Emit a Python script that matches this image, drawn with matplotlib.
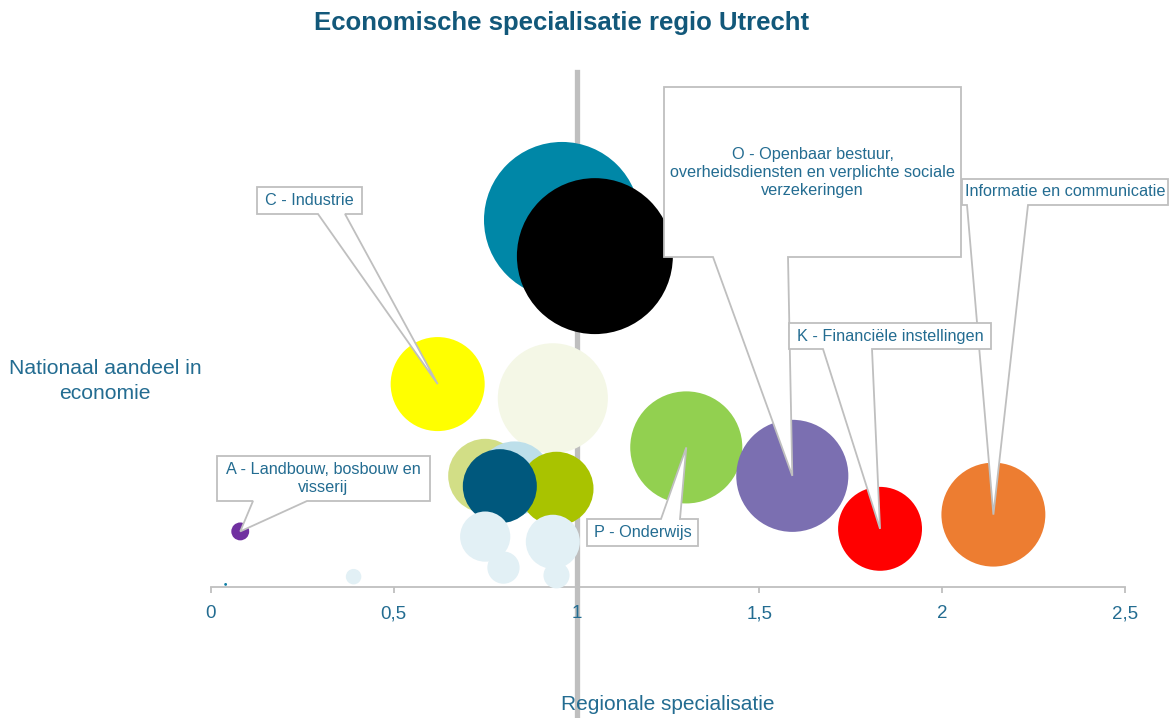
import matplotlib
matplotlib.use("Agg")
import matplotlib.pyplot as plt
from matplotlib.patches import Polygon
from matplotlib.ticker import FuncFormatter

plt.rcParams['font.family'] = ['Liberation Sans', 'DejaVu Sans']

W, H = 1169, 718
BLAUW = '#236C91'
GRIJS = '#BFBFBF'

# sectoren in tekenvolgorde
sectoren = ['B - Delfstoffen', 'R - Cultuur en recreatie', 'Q - Zorg', 'G - Handel',
            'C - Industrie', 'M - Zakelijke diensten', 'F - Bouw', 'H - Vervoer en opslag',
            'N - Overige zakelijke diensten', 'I - Horeca', 'S - Overige diensten',
            'D - Energie', 'E - Water en afval', 'L - Onroerend goed', 'P - Onderwijs',
            'O - Openbaar bestuur', 'K - Financiële instellingen',
            'J - Informatie en communicatie', 'A - Landbouw, bosbouw en visserij']
specialisatie = [0.04, 0.39, 0.96, 1.05, 0.62, 0.935, 0.75, 0.83, 0.945, 0.79,
                 0.75, 0.935, 0.80, 0.945, 1.30, 1.59, 1.83, 2.14, 0.08]
aandeel = [0.1, 0.4, 14.2, 12.8, 7.85, 7.3, 4.3, 4.2, 3.8, 3.9,
           1.95, 1.75, 0.75, 0.45, 5.4, 4.3, 2.25, 2.8, 2.15]
werkzaam = [0.02, 0.6, 60.8, 60.8, 22.1, 30.3, 13.7, 13.7, 13.7, 13.7,
            6.3, 7.3, 2.6, 1.7, 31.4, 31.4, 17.6, 27.0, 0.8]
kleuren = ['#0F7FA6', '#E2F0F5', '#0087A7', '#000000', '#FFFF00', '#F4F7E6', '#D2DE86',
           '#BDDFEA', '#A9C300', '#00587D', '#E2F0F5', '#E2F0F5', '#E2F0F5', '#E2F0F5',
           '#92D050', '#7B6FB1', '#FF0000', '#ED7D31', '#7030A0']

fig = plt.figure(figsize=(W / 100, H / 100), dpi=100)
ax = fig.add_axes([211 / W, 1 - 587 / H, (1125 - 211) / W, (587 - 70) / H])
ax.set_xlim(0, 2.5)
ax.set_ylim(0, 20)

ax.scatter(specialisatie, aandeel, s=[w * 207.4 for w in werkzaam], c=kleuren,
           linewidths=0, zorder=3, clip_on=False)
ax.axvline(1, ymin=-0.2476, ymax=0.996, color=GRIJS, lw=3.8, clip_on=False, zorder=0.3)

for s in ['left', 'top', 'right']:
    ax.spines[s].set_visible(False)
ax.spines['bottom'].set_color(GRIJS)
ax.spines['bottom'].set_linewidth(1.3)
ax.set_yticks([])
ax.set_xticks([0, 0.5, 1, 1.5, 2, 2.5])
ax.xaxis.set_major_formatter(FuncFormatter(lambda v, p: f'{v:g}'.replace('.', ',')))
ax.tick_params(axis='x', color=GRIJS, labelcolor=BLAUW, length=4.5, width=1.3,
               pad=8.5, labelsize=13.5)

fig.text(562 / W, 1 - 23 / H, 'Economische specialisatie regio Utrecht', ha='center',
         va='center', fontsize=18.5, fontweight='bold', color='#12587A')
fig.text(105 / W, 1 - 381 / H, 'Nationaal aandeel in\neconomie', ha='center', va='center',
         fontsize=15.2, color=BLAUW, linespacing=1.45)
fig.text(668 / W, 1 - 705 / H, 'Regionale specialisatie', ha='center', va='center',
         fontsize=15, color=BLAUW)


def ballon(tekst, naam, box, voet, boven=False, z=10):
    i = sectoren.index(naam)
    tx, ty = ax.transData.transform((specialisatie[i], aandeel[i]))
    ty = H - ty
    x0, y0, x1, y1 = box
    b0, b1 = voet
    if boven:
        pts = [(x0, y0), (b0, y0), (tx, ty), (b1, y0), (x1, y0), (x1, y1), (x0, y1)]
    else:
        pts = [(x0, y0), (x1, y0), (x1, y1), (b1, y1), (tx, ty), (b0, y1), (x0, y1)]
    pts = [(px / W, 1 - py / H) for px, py in pts]
    fig.add_artist(Polygon(pts, closed=True, transform=fig.transFigure, facecolor='white',
                           edgecolor=GRIJS, lw=1.3, zorder=z))
    fig.text((x0 + x1) / 2 / W, 1 - (y0 + y1) / 2 / H, tekst, ha='center', va='center',
             fontsize=11.7, color=BLAUW, linespacing=1.25, zorder=z + 0.5)


ballon('A - Landbouw, bosbouw en\nvisserij', 'A - Landbouw, bosbouw en visserij',
       (217, 456, 430, 501), (253, 307), z=10)
ballon('C - Industrie', 'C - Industrie', (257, 187, 362, 214), (318, 345), z=11)
ballon('P - Onderwijs', 'P - Onderwijs', (587, 519, 698, 546), (661, 680), boven=True, z=12)
ballon('O - Openbaar bestuur,\noverheidsdiensten en verplichte sociale\nverzekeringen',
       'O - Openbaar bestuur', (664, 87, 961, 257), (713, 788), z=13)
ballon('Informatie en communicatie', 'J - Informatie en communicatie',
       (962, 179, 1168, 205), (967, 1028), z=14)
ballon('K - Financiële instellingen', 'K - Financiële instellingen',
       (789, 323, 991, 349), (823, 872), z=15)

fig.savefig('out.png', dpi=100)
